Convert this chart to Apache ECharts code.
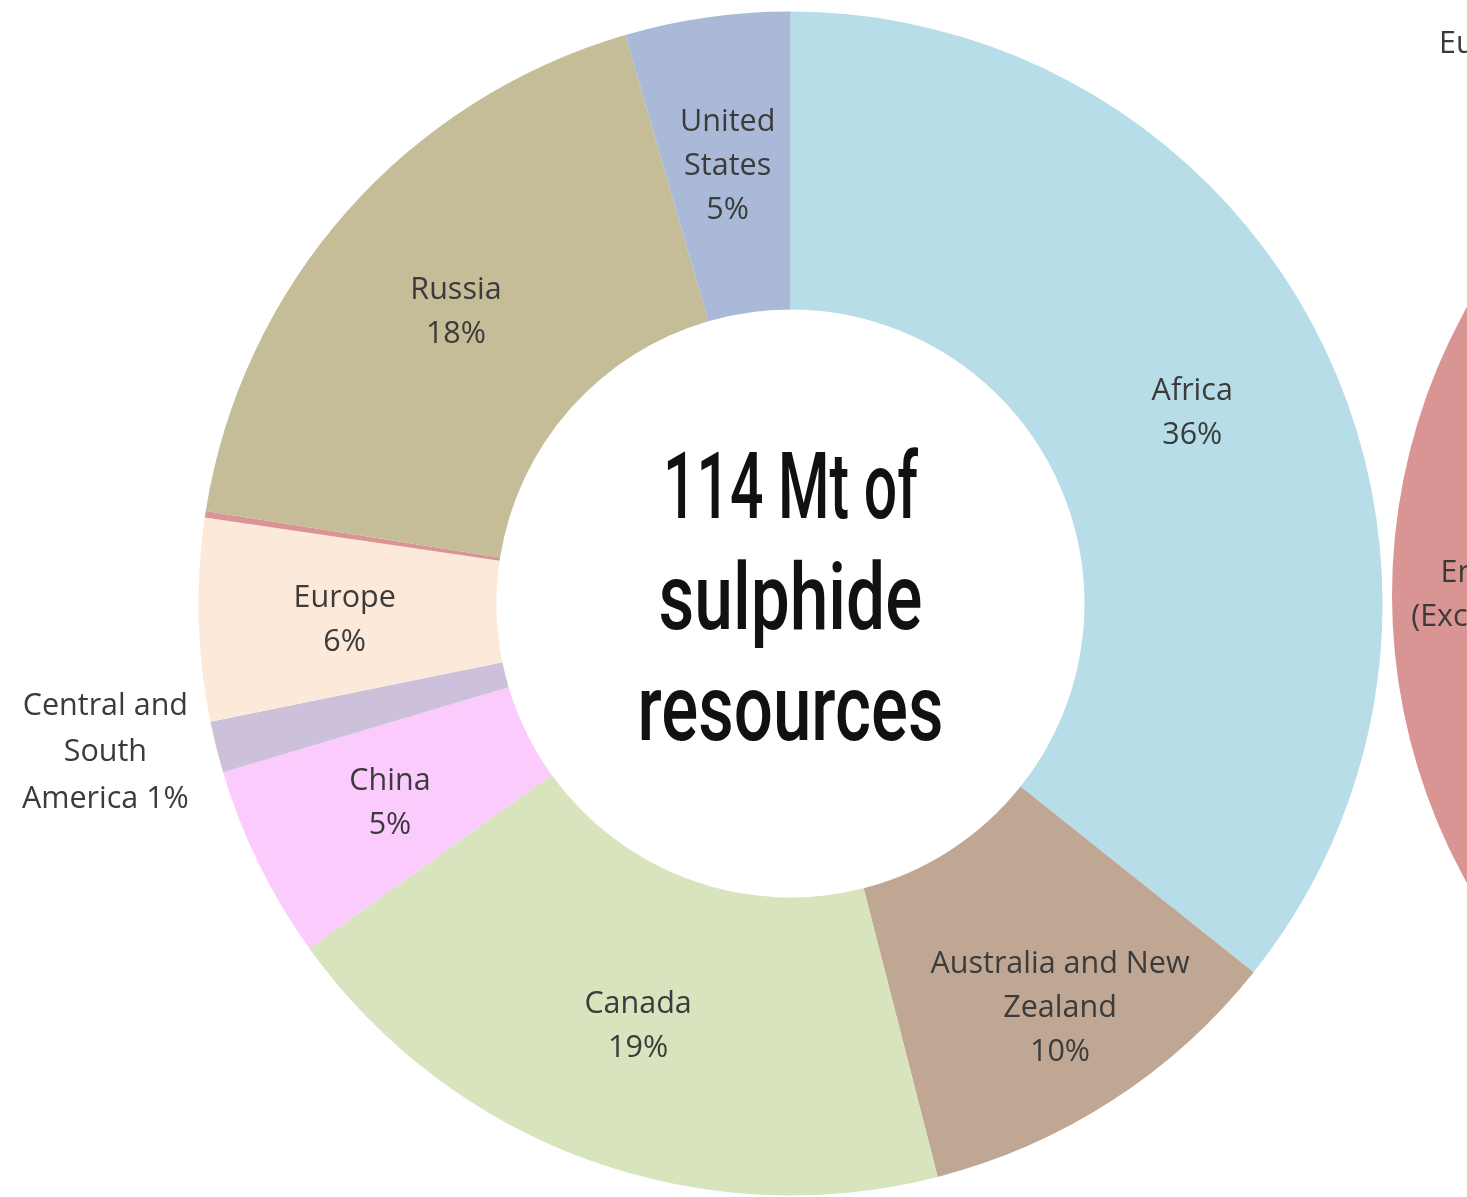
<!DOCTYPE html>
<html>
<head>
<meta charset="utf-8">
<title>Sulphide resources by region</title>
<script src="https://cdn.jsdelivr.net/npm/echarts@6/dist/echarts.min.js"></script>
<style>
  html, body { margin: 0; padding: 0; background: #ffffff; }
  #chart { width: 1467px; height: 1197px; }
</style>
</head>
<body>
<div id="chart"></div>
<script>
// Regional split of sulphide resources (share of total, %)
const categories = ['Africa', 'Australia and New\nZealand', 'Canada', 'China',
  'Central and\nSouth\nAmerica', 'Europe', 'Middle East', 'Russia', 'United\nStates'];
const shares = [35.7, 10.3, 19.1, 5.3, 1.4, 5.52, 0.18, 18.0, 4.5];
const colors = ['#B7DDE8', '#C0A794', '#D7E4BD', '#FCCBFE', '#CCC0DA',
  '#FDE9D9', '#D99594', '#C4BD97', '#AAB9D7'];

// Categories whose label sits outside the ring, and those with no label
const outsideLabelled = ['Central and\nSouth\nAmerica'];
const unlabelled = ['Middle East'];

// Neighbouring breakdown (only its left edge falls on the page)
const categories2 = ['Entire Europe\n(Excluding Russia)', 'Eurasia', 'Asia Pacific', 'Oceania', 'Americas'];
const shares2 = [25, 5.6, 29.4, 22, 18];
const colors2 = ['#D99594', '#B3A2C7', '#93CDDD', '#FAC090', '#C3D69B'];

const centerTitle = ['114 Mt of', 'sulphide', 'resources'];
// horizontal squeeze per title line, giving a condensed display face
const titleSqueeze = [0.64, 0.755, 0.75];

const CX = 790.5, CY = 603.5, R0 = 294, R1 = 592;
const CX2 = 1983, CY2 = 595;

const labelFont = { fontFamily: 'Open Sans', fontSize: 30.5, lineHeight: 44, color: '#3b3b3b' };

function pct(p) { return Math.round(p.percent) + '%'; }

const mainData = categories.map((name, i) => {
  const item = { name: name, value: shares[i], itemStyle: { color: colors[i] } };
  if (unlabelled.includes(name)) {
    item.label = { show: false };
  } else if (outsideLabelled.includes(name)) {
    item.label = {
      position: 'outside',
      formatter: p => p.name.split('\n').map((s, k, a) => '{c|' + (k === a.length - 1 ? s + ' ' + pct(p) : s) + '}').join('\n'),
      rich: { c: Object.assign({}, labelFont, { width: 200, align: 'center', lineHeight: 46.5 }) }
    };
    item.labelLine = { show: false, length: 6, length2: 0 };
  }
  return item;
});

const sideData = categories2.map((name, i) => {
  const item = { name: name, value: shares2[i], itemStyle: { color: colors2[i] } };
  if (name === 'Eurasia') {
    item.label = { position: 'outside', formatter: p => p.name + ' ' + pct(p) };
    item.labelLine = { show: false, length: 80, length2: 0 };
  } else if (i > 1) {
    item.label = { show: false };
  }
  return item;
});

const chart = echarts.init(document.getElementById('chart'), null, { renderer: 'canvas' });
chart.setOption({
  animation: false,
  backgroundColor: '#ffffff',
  series: [
    {
      type: 'pie',
      center: [CX, CY],
      radius: [R0, R1],
      startAngle: 90,
      clockwise: true,
      avoidLabelOverlap: false,
      silent: true,
      itemStyle: { borderWidth: 0 },
      label: Object.assign({
        show: true,
        position: 'inside',
        formatter: p => p.name + '\n' + pct(p)
      }, labelFont),
      labelLayout: p => (p.dataIndex === 1 ? { dx: 27, dy: 31 } : { dy: 4 }),
      data: mainData
    },
    {
      type: 'pie',
      center: [CX2, CY2],
      radius: [R0, 591],
      startAngle: 225,
      clockwise: true,
      avoidLabelOverlap: false,
      silent: true,
      itemStyle: { borderWidth: 0 },
      label: Object.assign({
        show: true,
        position: 'inside',
        formatter: p => p.name
      }, labelFont),
      data: sideData
    }
  ],
  graphic: centerTitle.map((line, k) => ({
    type: 'text',
    x: CX,
    y: CY + 2 + (k - 1) * 111,
    scaleX: titleSqueeze[k],
    silent: true,
    style: {
      text: line,
      x: 0,
      y: 0,
      align: 'center',
      verticalAlign: 'middle',
      font: '500 92px Roboto',
      fill: '#111111'
    }
  }))
});
</script>
</body>
</html>
